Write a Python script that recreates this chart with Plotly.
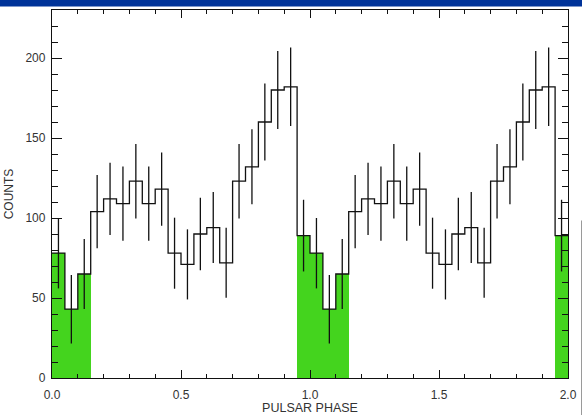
import numpy as np
import plotly.graph_objects as go

# Folded light curve: 20 phase bins per cycle (bin width 0.05)
bin_width = 0.05
counts = [78, 43, 65, 104, 112, 109, 123, 109, 118, 78,
          71, 90, 94, 72, 123, 132, 160, 180, 182, 89]
count_err = [22.0, 21.4, 21.9, 22.9, 22.6, 23.2, 23.3, 23.2, 22.9, 22.2,
             21.9, 22.6, 22.2, 21.9, 23.3, 23.4, 24.0, 24.4, 24.5, 22.4]
# Bins used as the off-pulse interval (phase 0.95 - 0.15)
highlight_bins = [19, 0, 1, 2]
n_cycles = 2

nbin = len(counts)
left_edges = np.arange(nbin * n_cycles) * bin_width
centers = left_edges + bin_width / 2
y_all = list(counts) * n_cycles
err_all = list(count_err) * n_cycles
is_hl = [(i % nbin) in highlight_bins for i in range(nbin * n_cycles)]

fig = go.Figure()

# Shaded bins
fig.add_trace(go.Bar(
    x=[c for c, h in zip(centers, is_hl) if h],
    y=[v for v, h in zip(y_all, is_hl) if h],
    width=bin_width,
    marker=dict(color="#44d41e", line=dict(width=0)),
    hoverinfo="skip",
))

# Histogram outline
step_x = list(left_edges) + [n_cycles * 1.0]
step_y = y_all + [y_all[-1]]
fig.add_trace(go.Scatter(
    x=step_x, y=step_y, mode="lines",
    line=dict(shape="hv", color="#111111", width=1.3),
))

# Error bars at bin centres
fig.add_trace(go.Scatter(
    x=centers, y=y_all, mode="markers",
    marker=dict(size=0.1, color="rgba(0,0,0,0)"),
    error_y=dict(type="data", array=err_all, visible=True,
                 width=0, thickness=1.3, color="#111111"),
))

font_family = "Liberation Sans, Arial, Helvetica, sans-serif"

fig.update_layout(
    width=582, height=415,
    margin=dict(l=52, r=14, t=10, b=37),
    paper_bgcolor="white", plot_bgcolor="white",
    showlegend=False,
    bargap=0,
    font=dict(family=font_family, size=12, color="#333333"),
    shapes=[
        # header strip
        dict(type="rect", xref="paper", yref="paper",
             x0=-0.11, x1=1.05, y0=1.0095, y1=1.03,
             fillcolor="#003399", line=dict(width=0), layer="above"),
        # thin rule on the right
        dict(type="line", xref="paper", yref="paper",
             x0=1.0262, x1=1.0262, y0=0.428, y1=-0.11,
             line=dict(color="#999999", width=1)),
    ],
)

fig.update_xaxes(
    range=[0, 2.0], dtick=0.5, tick0=0, tickformat=".1f",
    ticks="inside", ticklen=8, tickwidth=1.2, tickcolor="#111111",
    minor=dict(dtick=0.1, ticks="inside", ticklen=4, tickwidth=1.2,
               tickcolor="#111111", showgrid=False),
    showline=True, linecolor="#111111", linewidth=1.3, mirror="ticks",
    showgrid=False, zeroline=False,
    ticklabelstandoff=5,
    title=dict(text="PULSAR PHASE", standoff=4,
               font=dict(size=12.5, color="#333333")),
    automargin=False,
)
fig.update_yaxes(
    range=[0, 230], dtick=50, tick0=0,
    ticks="inside", ticklen=10, tickwidth=1.2, tickcolor="#111111",
    minor=dict(dtick=10, ticks="inside", ticklen=6, tickwidth=1.2,
               tickcolor="#111111", showgrid=False),
    showline=True, linecolor="#111111", linewidth=1.3, mirror="ticks",
    showgrid=False, zeroline=False,
    ticklabelstandoff=3,
    title=dict(text="COUNTS", standoff=9,
               font=dict(size=12, color="#333333")),
    automargin=False,
)

fig.write_html("out.html")
